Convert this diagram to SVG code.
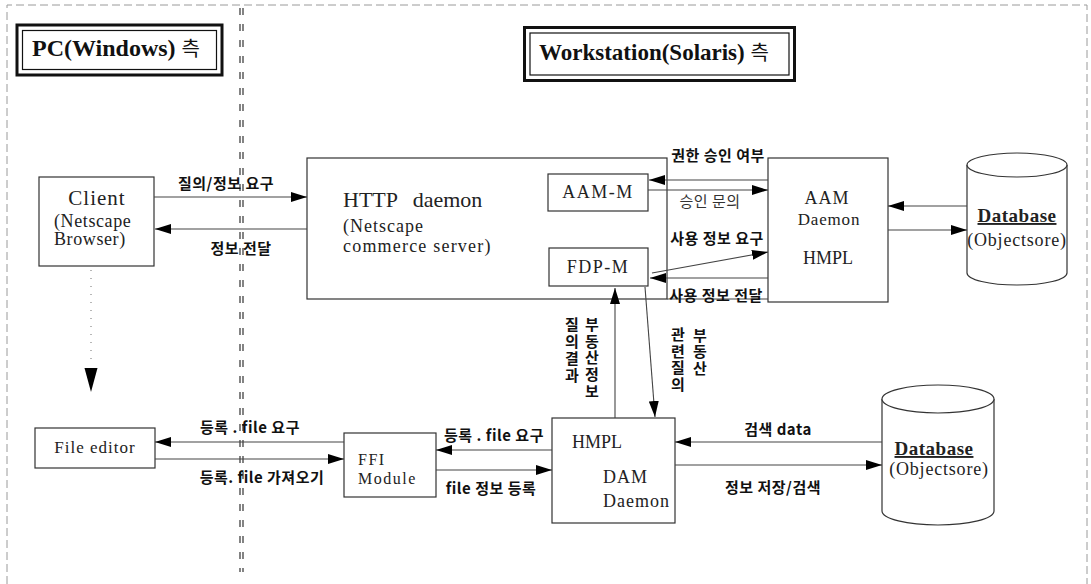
<svg xmlns="http://www.w3.org/2000/svg" width="1091" height="584" viewBox="0 0 1091 584">
<style>
.frame{fill:none;stroke:#9a9a9a;stroke-width:1;stroke-dasharray:8 4}
.sep{fill:none;stroke:#333;stroke-width:1.2;stroke-dasharray:7 9}
.box{fill:#fff;stroke:#333;stroke-width:1.2}
.hdr{fill:#fff;stroke:#111;stroke-width:3}
.hdri{fill:none;stroke:#111;stroke-width:1.2}
.cn{fill:none;stroke:#444;stroke-width:1.1}
.dot{fill:none;stroke:#888;stroke-width:1.2;stroke-dasharray:1 7}
.s{font-family:"Liberation Serif",serif;fill:#222}
.h{font-family:"Liberation Serif","Noto Sans CJK KR",serif;font-weight:bold;fill:#111}
.k{font-family:"Noto Sans CJK KR","Noto Sans",sans-serif;font-weight:bold;font-size:15px;fill:#111;letter-spacing:0.5px}
.kn{font-weight:normal;fill:#333}
.m{text-anchor:middle}
.v{writing-mode:vertical-rl;text-anchor:start}
</style>
<defs>
<marker id="ah" markerUnits="userSpaceOnUse" markerWidth="16" markerHeight="10" refX="16" refY="5" orient="auto">
<path d="M0,0 L16,5 L0,10 z" fill="#000"/>
</marker>
</defs>

<g id="frame">
<path class="frame" d="M7,584 L7,5 L1087,5 L1087,584"/>
<line class="sep" x1="240" y1="8" x2="240" y2="572"/>
<line class="sep" x1="243" y1="8" x2="243" y2="572"/>
</g>

<g id="hdr-pc">
<rect class="hdr" x="17" y="25" width="205" height="50"/>
<rect class="hdri" x="22.5" y="30.5" width="194" height="39"/>
<text class="h" x="32" y="56" font-size="24">PC(Windows) <tspan font-family="Noto Sans CJK KR,sans-serif" font-weight="normal" font-size="20">측</tspan></text>
</g>

<g id="hdr-ws">
<rect class="hdr" x="524.5" y="27.5" width="270" height="53"/>
<rect class="hdri" x="530" y="33" width="259" height="42"/>
<text class="h" x="539" y="60" font-size="23">Workstation(Solaris) <tspan font-family="Noto Sans CJK KR,sans-serif" font-weight="normal" font-size="20">측</tspan></text>
</g>

<g id="client">
<rect class="box" x="39" y="177" width="115" height="89"/>
<text class="s m" x="97" y="205" font-size="21" letter-spacing="1">Client</text>
<text class="s" x="54" y="227" font-size="18" letter-spacing="0.6">(Netscape</text>
<text class="s" x="54" y="245" font-size="18" letter-spacing="0.6">Browser)</text>
</g>

<g id="http">
<rect class="box" x="307" y="158" width="360" height="141"/>
<text class="s" x="343" y="207" font-size="22" word-spacing="10">HTTP daemon</text>
<text class="s" x="343" y="232" font-size="18" letter-spacing="1">(Netscape</text>
<text class="s" x="343" y="252" font-size="18" letter-spacing="1.2">commerce server)</text>
</g>

<g id="aam-m">
<rect class="box" x="548" y="174" width="100" height="37"/>
<text class="s m" x="598" y="198" font-size="18" letter-spacing="1.5">AAM-M</text>
</g>

<g id="fdp-m">
<rect class="box" x="549" y="248" width="99" height="38"/>
<text class="s m" x="598" y="273" font-size="18" letter-spacing="1.5">FDP-M</text>
</g>

<g id="aam">
<rect class="box" x="768" y="158" width="120" height="144"/>
<text class="s m" x="827" y="204" font-size="18" letter-spacing="1">AAM</text>
<text class="s m" x="829" y="225" font-size="17" letter-spacing="0.8">Daemon</text>
<text class="s m" x="828" y="264" font-size="18">HMPL</text>
</g>

<g id="db1">
<path class="box" d="M967,165 L967,273 A50,12 0 0 0 1067,273 L1067,165"/>
<ellipse class="box" cx="1017" cy="165" rx="50" ry="12"/>
<text class="s m" x="1017" y="222" font-size="19" font-weight="bold" letter-spacing="0.5" text-decoration="underline">Database</text>
<text class="s m" x="1017" y="246" font-size="18" letter-spacing="0.8">(Objectsore)</text>
</g>

<g id="file-editor">
<rect class="box" x="35" y="428" width="120" height="40"/>
<text class="s m" x="95" y="453" font-size="17" letter-spacing="1">File editor</text>
</g>

<g id="ffi">
<rect class="box" x="344" y="433" width="92" height="64"/>
<text class="s" x="358" y="465" font-size="16" letter-spacing="1.5">FFI</text>
<text class="s" x="358" y="484" font-size="16" letter-spacing="1.5">Module</text>
</g>

<g id="dam">
<rect class="box" x="552" y="418" width="123" height="105"/>
<text class="s" x="572" y="448" font-size="18">HMPL</text>
<text class="s" x="603" y="483" font-size="18" letter-spacing="1">DAM</text>
<text class="s" x="603" y="507" font-size="18" letter-spacing="1">Daemon</text>
</g>

<g id="db2">
<path class="box" d="M882,399 L882,511 A56,14 0 0 0 994,511 L994,399"/>
<ellipse class="box" cx="938" cy="399" rx="56" ry="14"/>
<text class="s m" x="934" y="455" font-size="19" font-weight="bold" letter-spacing="0.5" text-decoration="underline">Database</text>
<text class="s m" x="939" y="475" font-size="18" letter-spacing="0.8">(Objectsore)</text>
</g>

<g id="connectors">
<line class="cn" x1="154" y1="197" x2="307" y2="197" marker-end="url(#ah)"/>
<line class="cn" x1="307" y1="229" x2="155" y2="229" marker-end="url(#ah)"/>
<line class="cn" x1="768" y1="180" x2="649" y2="180" marker-end="url(#ah)"/>
<line class="cn" x1="648" y1="190" x2="768" y2="190" marker-end="url(#ah)"/>
<line class="cn" x1="652" y1="273" x2="768" y2="252" marker-end="url(#ah)"/>
<line class="cn" x1="768" y1="278" x2="650" y2="278" marker-end="url(#ah)"/>
<line class="cn" x1="667" y1="299" x2="768" y2="299"/>
<line class="cn" x1="967" y1="206" x2="888" y2="206" marker-end="url(#ah)"/>
<line class="cn" x1="888" y1="230" x2="967" y2="230" marker-end="url(#ah)"/>
<line class="cn" x1="615" y1="418" x2="615" y2="288" marker-end="url(#ah)"/>
<line class="cn" x1="645" y1="287" x2="655" y2="417" marker-end="url(#ah)"/>
<line class="dot" x1="91" y1="270" x2="91" y2="362"/>
<path d="M84.5,368 L97.5,368 L91,392 z" fill="#000"/>
<line class="cn" x1="344" y1="442" x2="155" y2="442" marker-end="url(#ah)"/>
<line class="cn" x1="155" y1="459" x2="344" y2="459" marker-end="url(#ah)"/>
<line class="cn" x1="552" y1="450" x2="436" y2="450" marker-end="url(#ah)"/>
<line class="cn" x1="436" y1="470" x2="552" y2="470" marker-end="url(#ah)"/>
<line class="cn" x1="882" y1="442" x2="675" y2="442" marker-end="url(#ah)"/>
<line class="cn" x1="675" y1="465" x2="882" y2="465" marker-end="url(#ah)"/>
</g>

<g id="labels">
<text class="k m" x="226" y="189">질의/정보 요구</text>
<text class="k m" x="241" y="254">정보 전달</text>
<text class="k m" x="718" y="161">권한 승인 여부</text>
<text class="k kn m" x="710" y="207">승인 문의</text>
<text class="k m" x="717" y="244">사용 정보 요구</text>
<text class="k m" x="716" y="301">사용 정보 전달</text>
<text class="k v" x="592" y="317" style="letter-spacing:1.6px">부동산정보</text>
<text class="k v" x="572" y="317" style="letter-spacing:2px">질의결과</text>
<text class="k v" x="700" y="328" style="letter-spacing:1.3px">부동산</text>
<text class="k v" x="678" y="327" style="letter-spacing:1.5px">관련질의</text>
<text class="k m" x="250" y="433">등록 . file 요구</text>
<text class="k m" x="262" y="483">등록. file 가져오기</text>
<text class="k m" x="494" y="441">등록 . file 요구</text>
<text class="k m" x="491" y="494">file 정보 등록</text>
<text class="k m" x="778" y="435">검색 data</text>
<text class="k m" x="773" y="493">정보 저장/검색</text>
</g>
</svg>
